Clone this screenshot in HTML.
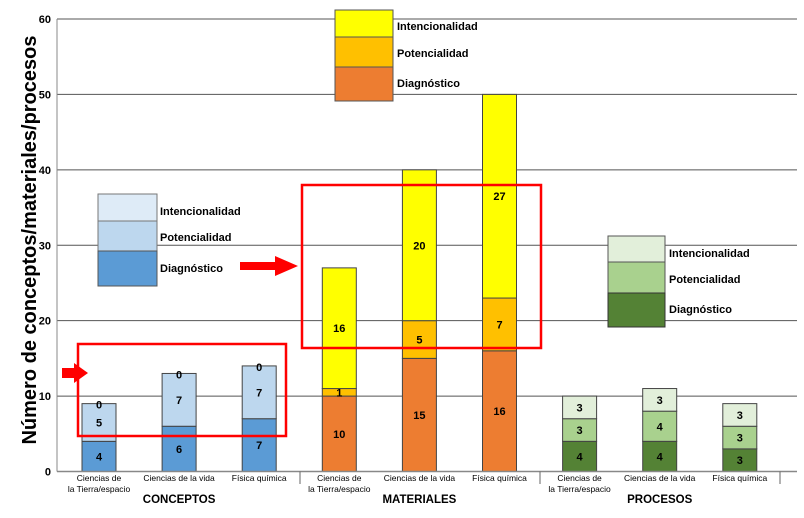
<!DOCTYPE html>
<html><head><meta charset="utf-8"><style>
body{margin:0;background:#fff;width:804px;height:513px;overflow:hidden;font-family:"Liberation Sans",sans-serif}
</style></head><body>
<svg id="chart" width="804" height="513" xmlns="http://www.w3.org/2000/svg" font-family="Liberation Sans, sans-serif">
<text transform="translate(36,240) rotate(-90)" text-anchor="middle" font-size="20" font-weight="bold">Número de conceptos/materiales/procesos</text>
<g id="grid"></g><g id="bars"></g><g id="xaxis"></g>
<g>
<rect x="98" y="194" width="59" height="27" fill="#deebf7" stroke="#777"/>
<rect x="98" y="221" width="59" height="30" fill="#bdd7ee" stroke="#777"/>
<rect x="98" y="251" width="59" height="35" fill="#5b9bd5" stroke="#555"/>
<text x="160" y="215" font-size="11" font-weight="bold">Intencionalidad</text>
<text x="160" y="241" font-size="11" font-weight="bold">Potencialidad</text>
<text x="160" y="272" font-size="11" font-weight="bold">Diagnóstico</text>
</g>
<g>
<rect x="335" y="10" width="58" height="27" fill="#ffff00" stroke="#555"/>
<rect x="335" y="37" width="58" height="30" fill="#ffc000" stroke="#555"/>
<rect x="335" y="67" width="58" height="34" fill="#ed7d31" stroke="#555"/>
<text x="397" y="30" font-size="11" font-weight="bold">Intencionalidad</text>
<text x="397" y="57" font-size="11" font-weight="bold">Potencialidad</text>
<text x="397" y="87" font-size="11" font-weight="bold">Diagnóstico</text>
</g>
<g>
<rect x="608" y="236" width="57" height="26" fill="#e2efda" stroke="#555"/>
<rect x="608" y="262" width="57" height="31" fill="#a9d18e" stroke="#555"/>
<rect x="608" y="293" width="57" height="34" fill="#548235" stroke="#333"/>
<text x="669" y="257" font-size="11" font-weight="bold">Intencionalidad</text>
<text x="669" y="283" font-size="11" font-weight="bold">Potencialidad</text>
<text x="669" y="313" font-size="11" font-weight="bold">Diagnóstico</text>
</g>
<rect x="78" y="344" width="208" height="92" fill="none" stroke="#f00" stroke-width="2.5"/>
<rect x="302" y="185" width="239" height="163" fill="none" stroke="#f00" stroke-width="2.5"/>
<polygon points="62,368 74,368 74,363 88,373 74,383 74,378 62,378" fill="#f00"/>
<polygon points="240,262 275,262 275,256 298,266 275,276 275,270 240,270" fill="#f00"/>
</svg>
<script>
const groups=["CONCEPTOS","MATERIALES","PROCESOS"];
const categories=["Ciencias de|la Tierra/espacio","Ciencias de la vida","Física química"];
const diagnostico=[4,6,7,10,15,16,4,4,3];
const potencialidad=[5,7,7,1,5,7,3,4,3];
const intencionalidad=[0,0,0,16,20,27,3,3,3];
const yTicks=[0,10,20,30,40,50,60];
const palette=[["#5b9bd5","#bdd7ee","#deebf7"],["#ed7d31","#ffc000","#ffff00"],["#548235","#a9d18e","#e2efda"]];
const NS="http://www.w3.org/2000/svg";
const y0=471.5,yTop=19,x0=57,xEnd=797,bw=34;
const y=v=>y0-(y0-yTop)*v/60;
const xC=i=>99+i*80.1;
function mk(tag,attrs,parent,text){const e=document.createElementNS(NS,tag);for(const k in attrs)e.setAttribute(k,attrs[k]);if(text!==undefined)e.textContent=text;parent.appendChild(e);return e;}
const grid=document.getElementById('grid'),bars=document.getElementById('bars'),xa=document.getElementById('xaxis');
yTicks.forEach(t=>{
 if(t>0){const l=mk('line',{x1:x0,x2:xEnd,y1:y(t),y2:y(t),stroke:'#555','stroke-width':1},grid);
 
 }
 const tx=mk('text',{x:51,y:y(t)+4,'text-anchor':'end','font-size':11,'font-weight':'bold'},grid,t);
 
 
});
const ax=mk('line',{x1:x0,x2:x0,y1:yTop,y2:y0,stroke:'#888'},grid);


const bx=mk('line',{x1:x0,x2:xEnd,y1:y0,y2:y0,stroke:'#888','stroke-width':1.5},xa);


[300,540,780].forEach(sx=>{const s=mk('line',{x1:sx,x2:sx,y1:y0,y2:484,stroke:'#666'},xa);
 
 });
diagnostico.forEach((d,i)=>{
 const g=Math.floor(i/3),c=xC(i),vals=[d,potencialidad[i],intencionalidad[i]];
 let base=0;
 vals.forEach((v,k)=>{
  const r=mk('rect',{x:c-bw/2,y:y(base+v),width:bw,height:y(base)-y(base+v),fill:palette[g][k],stroke:'#444','stroke-width':1},bars);
  
  
  const ly=v===0?y(base)+5:(y(base)+y(base+v))/2+4;
  const t=mk('text',{x:c,y:ly,'text-anchor':'middle','font-size':11,'font-weight':'bold'},bars,v);
  
  
  base+=v;
 });
 const lines=categories[i%3].split('|');
 lines.forEach((ln,j)=>{const t=mk('text',{x:c,y:481+j*11,'text-anchor':'middle','font-size':8.5},xa,ln);
  
  });
});
groups.forEach((gname,g)=>{const t=mk('text',{x:xC(g*3+1),y:503,'text-anchor':'middle','font-size':11.5,'font-weight':'bold'},xa,gname);
 
 });
</script>
</body></html>
